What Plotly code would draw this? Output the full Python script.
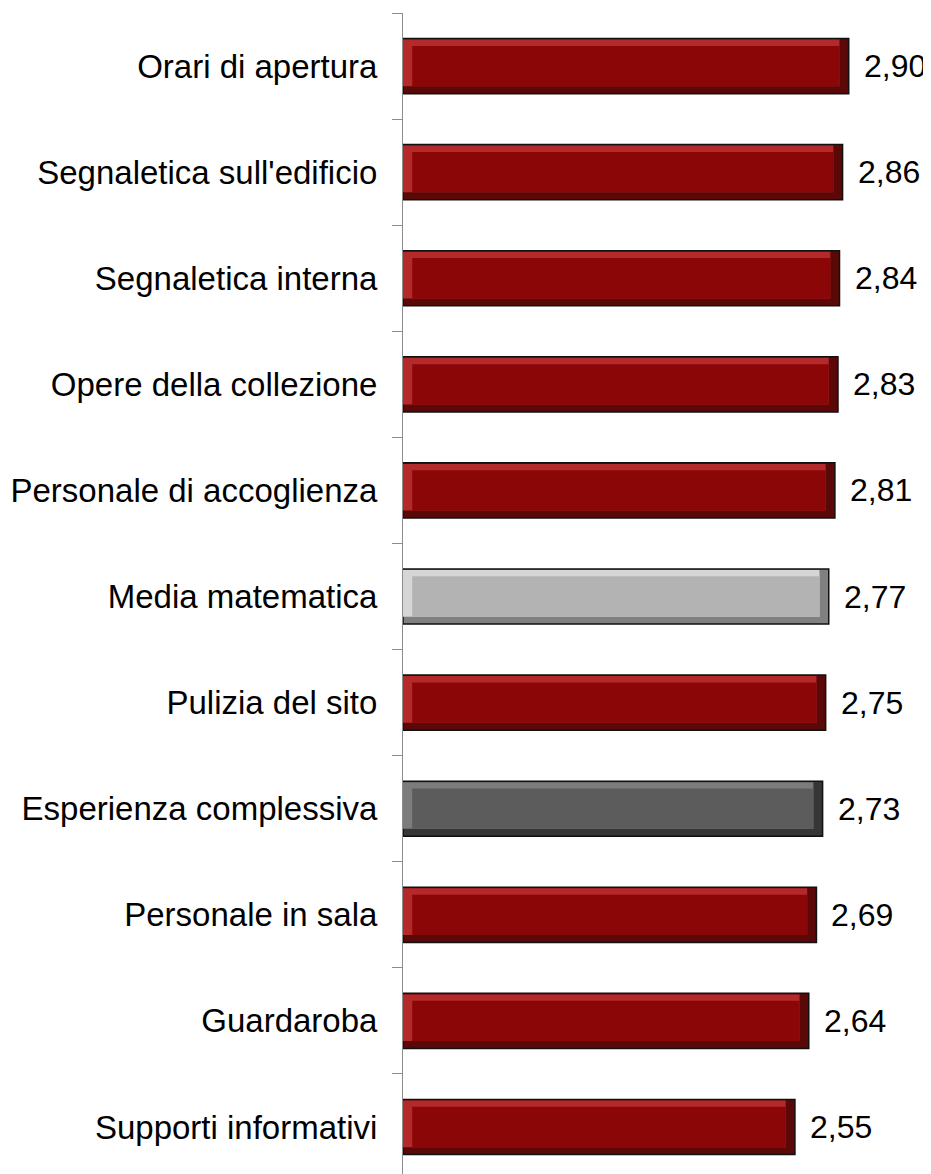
import plotly.graph_objects as go

categorie = [
    "Orari di apertura",
    "Segnaletica sull'edificio",
    "Segnaletica interna",
    "Opere della collezione",
    "Personale di accoglienza",
    "Media matematica",
    "Pulizia del sito",
    "Esperienza complessiva",
    "Personale in sala",
    "Guardaroba",
    "Supporti informativi",
]
valori = [2.90, 2.86, 2.84, 2.83, 2.81, 2.77, 2.75, 2.73, 2.69, 2.64, 2.55]
tipo = ["rosso", "rosso", "rosso", "rosso", "rosso", "grigio",
        "rosso", "scuro", "rosso", "rosso", "rosso"]

# colori: (bordo scuro, luce, faccia)
palette = {
    "rosso": ("#5a0808", "#b42a2a", "#8b0707"),
    "grigio": ("#808080", "#d6d6d6", "#b3b3b3"),
    "scuro": ("#363636", "#7c7c7c", "#5c5c5c"),
}

FONT = "Liberation Sans, Arial, Helvetica, sans-serif"
W = 0.52      # spessore barra (unità categoria)
BY = 0.07     # smusso verticale
BX = 0.06     # smusso orizzontale

fig = go.Figure()

# corpo scuro con contorno nero (smusso basso/destra)
fig.add_trace(go.Bar(
    y=categorie, x=valori, orientation="h",
    width=W, offset=-W / 2,
    marker=dict(color=[palette[t][0] for t in tipo],
                line=dict(color="#111111", width=1.5)),
    hoverinfo="skip",
))
# luce (smusso alto/sinistra)
fig.add_trace(go.Bar(
    y=categorie, x=[v - BX for v in valori], orientation="h",
    width=W - BY - 0.01, offset=-W / 2 + 0.01,
    marker=dict(color=[palette[t][1] for t in tipo], line=dict(width=0)),
    hoverinfo="skip",
))
# faccia frontale
fig.add_trace(go.Bar(
    y=categorie, x=[v - 2 * BX for v in valori], base=BX, orientation="h",
    width=W - 2 * BY, offset=-W / 2 + BY,
    marker=dict(color=[palette[t][2] for t in tipo], line=dict(width=0)),
    customdata=valori,
    hovertemplate="%{y}: %{customdata:.2f}<extra></extra>",
))

for c, v in zip(categorie, valori):
    fig.add_annotation(
        x=v, y=c, text=f"{v:.2f}".replace(".", ","),
        xanchor="left", xshift=13, showarrow=False,
        font=dict(family=FONT, size=32, color="black"),
    )

# la pagina aggiunge 8 px di margine al body
fig.update_layout(
    barmode="overlay",
    width=923, height=1166,
    margin=dict(l=395, r=0, t=5, b=0),
    plot_bgcolor="white", paper_bgcolor="white",
    showlegend=False,
    font=dict(family=FONT, size=33, color="black"),
)
fig.update_xaxes(
    range=[0, 528 / 153.7], visible=False, showgrid=False, zeroline=False,
)
fig.update_yaxes(
    type="category", categoryorder="array", categoryarray=categorie,
    range=[(1174 - 66) / 106.1, -0.5],
    tickson="boundaries", ticks="outside", ticklen=10, tickcolor="#8c8c8c",
    showline=True, linecolor="#8c8c8c", linewidth=1,
    showgrid=False, zeroline=False, ticklabelstandoff=18,
)

fig.write_html("out.html")
